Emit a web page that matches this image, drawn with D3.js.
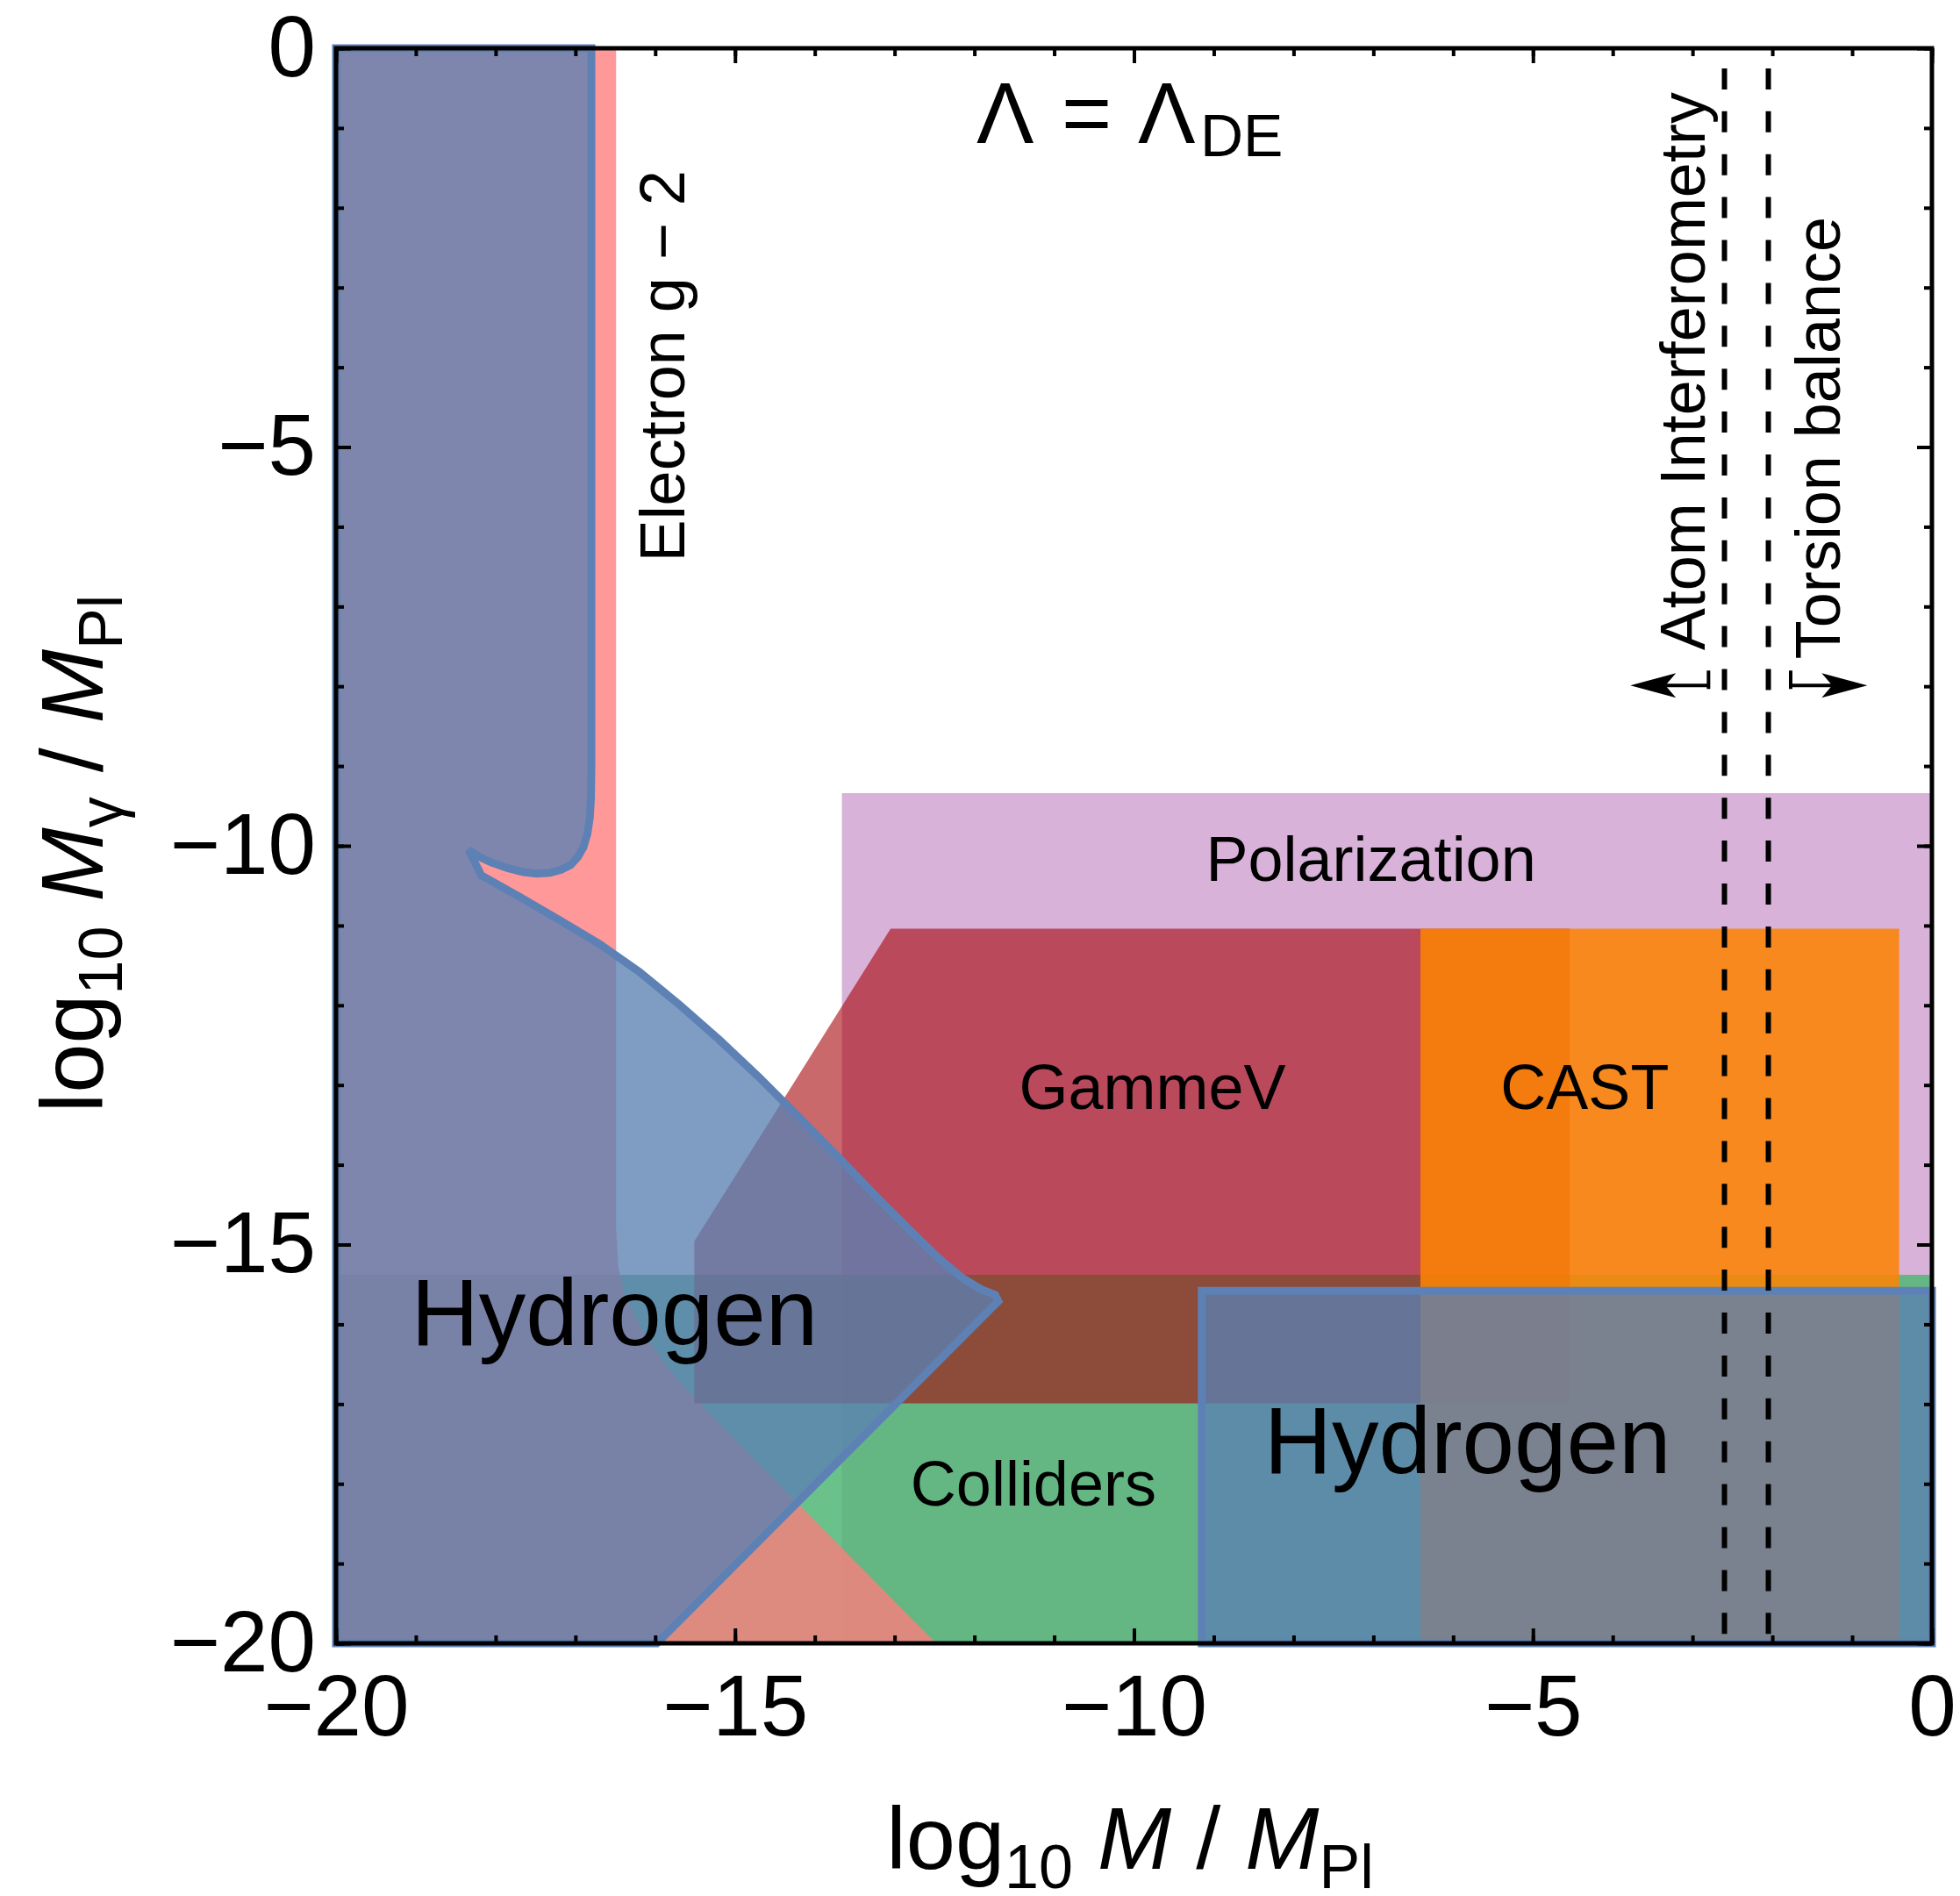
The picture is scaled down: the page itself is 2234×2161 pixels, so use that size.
<!DOCTYPE html>
<html>
<head>
<meta charset="utf-8">
<script src="https://cdn.jsdelivr.net/npm/d3@7"></script>
<style>
  body { margin: 0; background: #fff; }
  svg { display: block; }
  text { font-family: "Liberation Sans", Arial, Helvetica, sans-serif; fill: #000; }
</style>
</head>
<body>
<svg id="chart" width="2234" height="2161"></svg>
<script>
// ---- axis ticks ----
const xMajorTicks = [-20, -15, -10, -5, 0];
const yMajorTicks = [0, -5, -10, -15, -20];
const minorTicks = d3.range(-20, 1, 1);

// ---- excluded regions, (log10 M/MPl, log10 Mγ/MPl) vertices ----
const polarization = [[-13.66, -9.34], [0, -9.34], [0, -20], [-13.66, -20]];
const colliders = [[-20, -15.38], [0, -15.38], [0, -20], [-20, -20]];
const electronG2 = [
  [-20, 0], [-16.49, 0], [-16.49, -14.8], [-16.46, -15.3], [-16.36, -15.7],
  [-16.14, -16.1], [-15.84, -16.55], [-15.5, -16.93], [-14.21, -18.25],
  [-12.48, -20], [-20, -20]
];
const gammeV = [[-13.05, -11.04], [-4.54, -11.04], [-4.54, -16.99], [-15.51, -16.99], [-15.51, -14.96]];
const cast = [[-6.41, -11.04], [-0.41, -11.04], [-0.41, -20], [-6.41, -20]];
const hydrogenLeft = [
  [-20, 0], [-16.80, 0], [-16.80, -9.0], [-16.805, -9.4], [-16.82, -9.65],
  [-16.85, -9.85], [-16.90, -10.02], [-16.97, -10.14], [-17.06, -10.24],
  [-17.18, -10.30], [-17.32, -10.34], [-17.48, -10.35], [-17.65, -10.33],
  [-17.85, -10.28], [-18.05, -10.21], [-18.20, -10.14], [-18.34, -10.05],
  [-18.18, -10.37], [-17.70, -10.64], [-17.20, -10.93], [-16.70, -11.23],
  [-16.20, -11.58], [-15.70, -11.99], [-15.20, -12.43], [-14.70, -12.90],
  [-14.20, -13.40], [-13.70, -13.91], [-13.20, -14.43], [-12.80, -14.83],
  [-12.45, -15.17], [-12.15, -15.42], [-11.92, -15.56], [-11.74, -15.63],
  [-11.70, -15.71], [-11.80, -15.81], [-15.98, -20], [-20, -20]
];
const hydrogenRight = [[-9.15, -15.58], [0, -15.58], [0, -20], [-9.15, -20]];

// lower limits on M from fifth-force searches
const atomInterferometry = -2.60;
const torsionBalance = -2.05;

// ---- layout ----
const svg = d3.select("#chart");
const x = d3.scaleLinear().domain([-20, 0]).range([383, 2202]);
const y = d3.scaleLinear().domain([0, -20]).range([55, 1873]);
const path = d3.line().x(d => x(d[0])).y(d => y(d[1]));

const regions = [
  { pts: polarization,  fill: "rgb(216,178,216)", op: 1 },
  { pts: colliders,     fill: "rgb(80,182,116)",  op: 0.85 },
  { pts: electronG2,    fill: "rgb(255,124,124)", op: 0.78 },
  { pts: gammeV,        fill: "rgb(167,5,8)",     op: 0.60 },
  { pts: cast,          fill: "rgb(253,131,2)",   op: 0.87 },
  { pts: hydrogenLeft,  fill: "rgb(91,128,178)",  op: 0.78, stroke: "#5E81B5" },
  { pts: hydrogenRight, fill: "rgb(91,128,178)",  op: 0.78, stroke: "#5E81B5" }
];

const gRegions = svg.append("g");
regions.forEach(r => {
  gRegions.append("path")
    .attr("d", path(r.pts) + "Z")
    .attr("fill", r.fill)
    .attr("fill-opacity", r.op)
    .attr("stroke", r.stroke || "none")
    .attr("stroke-width", r.stroke ? 9 : 0)
    .attr("stroke-linejoin", "miter")
    .attr("stroke-miterlimit", 3);
});

// dashed verticals
[atomInterferometry, torsionBalance].forEach(v => {
  svg.append("line")
    .attr("x1", x(v)).attr("x2", x(v))
    .attr("y1", y(0)).attr("y2", y(-20))
    .attr("stroke", "#000").attr("stroke-width", 6)
    .attr("stroke-dasharray", "24,24.9")
    .attr("stroke-dashoffset", 26);
});

// region labels
const fontMain = 72;
function label(txt, xv, yv, size, anchor) {
  svg.append("text")
    .attr("x", x(xv)).attr("y", y(yv))
    .attr("font-size", size)
    .attr("text-anchor", anchor || "middle")
    .text(txt);
}
label("Polarization", -7.03, -10.44, fontMain);
label("GammeV", -9.77, -13.30, fontMain);
label("CAST", -4.35, -13.30, fontMain);
label("Colliders", -11.26, -18.27, fontMain);
label("Hydrogen", -16.51, -16.26, 107);
label("Hydrogen", -5.82, -17.87, 107);

function vlabel(txt, xv, yv) {
  svg.append("text")
    .attr("transform", `translate(${x(xv)},${y(yv)}) rotate(-90)`)
    .attr("font-size", fontMain)
    .attr("text-anchor", "start")
    .text(txt);
}
vlabel("Electron g \u2212 2", -15.63, -6.44);
vlabel("Atom Interferometry", -2.85, -7.55);
vlabel("Torsion balance", -1.155, -7.66);

// direction arrows next to the fifth-force limits
function arrow(xBar, xTip, yv) {
  const yy = y(yv), xb = x(xBar), xt = x(xTip);
  const dir = Math.sign(xt - xb);
  svg.append("line").attr("x1", xb).attr("x2", xb)
    .attr("y1", yy - 17).attr("y2", yy + 4)
    .attr("stroke", "#000").attr("stroke-width", 4);
  svg.append("line").attr("x1", xb).attr("x2", xt - dir * 40)
    .attr("y1", yy).attr("y2", yy)
    .attr("stroke", "#000").attr("stroke-width", 4);
  svg.append("path")
    .attr("d", `M${xt},${yy} L${xt - dir * 52},${yy - 14} L${xt - dir * 40},${yy} L${xt - dir * 52},${yy + 14} Z`)
    .attr("fill", "#000");
}
arrow(-2.80, -3.78, -7.99);
arrow(-1.77, -0.81, -7.99);

// Λ = Λ_DE
const lam = svg.append("text").attr("y", 163).attr("font-size", 98);
lam.append("tspan").attr("x", 1113).text("\u039B");
lam.append("tspan").attr("x", 1210).text("=");
lam.append("tspan").attr("x", 1297).text("\u039B");
lam.append("tspan").attr("x", 1368).attr("font-size", 68).attr("dy", 15).text("DE");

// ---- frame and ticks ----
const fontTick = 98;
function styleAxis(g) {
  g.select(".domain").remove();
  g.selectAll(".tick line").attr("stroke", "#000").attr("stroke-width", 4);
  g.attr("font-size", fontTick).attr("font-family", "\"Liberation Sans\", Arial, sans-serif");
}
const fmt = d3.format("d");

// bottom
svg.append("g").attr("transform", `translate(0,${y(-20)})`)
  .call(d3.axisBottom(x).tickValues(minorTicks).tickSizeInner(-9).tickSizeOuter(0).tickFormat(""))
  .call(styleAxis);
svg.append("g").attr("transform", `translate(0,${y(-20)})`)
  .call(d3.axisBottom(x).tickValues(xMajorTicks).tickSizeInner(-17).tickSizeOuter(0).tickPadding(35).tickFormat(fmt))
  .call(styleAxis);
// top
svg.append("g").attr("transform", `translate(0,${y(0)})`)
  .call(d3.axisTop(x).tickValues(minorTicks).tickSizeInner(-9).tickSizeOuter(0).tickFormat(""))
  .call(styleAxis);
svg.append("g").attr("transform", `translate(0,${y(0)})`)
  .call(d3.axisTop(x).tickValues(xMajorTicks).tickSizeInner(-17).tickSizeOuter(0).tickFormat(""))
  .call(styleAxis);
// left
svg.append("g").attr("transform", `translate(${x(-20)},0)`)
  .call(d3.axisLeft(y).tickValues(minorTicks).tickSizeInner(-9).tickSizeOuter(0).tickFormat(""))
  .call(styleAxis);
svg.append("g").attr("transform", `translate(${x(-20)},0)`)
  .call(d3.axisLeft(y).tickValues(yMajorTicks).tickSizeInner(-17).tickSizeOuter(0).tickPadding(23).tickFormat(fmt))
  .call(styleAxis);
// right
svg.append("g").attr("transform", `translate(${x(0)},0)`)
  .call(d3.axisRight(y).tickValues(minorTicks).tickSizeInner(-9).tickSizeOuter(0).tickFormat(""))
  .call(styleAxis);
svg.append("g").attr("transform", `translate(${x(0)},0)`)
  .call(d3.axisRight(y).tickValues(yMajorTicks).tickSizeInner(-17).tickSizeOuter(0).tickFormat(""))
  .call(styleAxis);

svg.append("rect")
  .attr("x", x(-20)).attr("y", y(0))
  .attr("width", x(0) - x(-20)).attr("height", y(-20) - y(0))
  .attr("fill", "none").attr("stroke", "#000").attr("stroke-width", 5);

// ---- axis titles ----
const titleSize = 101, subSize = 70;
const xt = svg.append("text").attr("x", 1288).attr("y", 2130)
  .attr("font-size", titleSize).attr("text-anchor", "middle");
xt.append("tspan").text("log");
xt.append("tspan").attr("font-size", subSize).attr("dy", 22).text("10");
xt.append("tspan").attr("dy", -22).text("\u00A0");
xt.append("tspan").attr("font-style", "italic").text("M");
xt.append("tspan").text(" / ");
xt.append("tspan").attr("font-style", "italic").text("M");
xt.append("tspan").attr("font-size", subSize).attr("dy", 22).text("Pl");

const yt = svg.append("text").attr("transform", "translate(117,973) rotate(-90)")
  .attr("font-size", titleSize).attr("text-anchor", "middle");
yt.append("tspan").text("log");
yt.append("tspan").attr("font-size", subSize).attr("dy", 22).text("10");
yt.append("tspan").attr("dy", -22).text("\u00A0");
yt.append("tspan").attr("font-style", "italic").text("M");
yt.append("tspan").attr("font-size", subSize).attr("dy", 22).text("\u03B3");
yt.append("tspan").attr("dy", -22).text(" / ");
yt.append("tspan").attr("font-style", "italic").text("M");
yt.append("tspan").attr("font-size", subSize).attr("dy", 22).text("Pl");
</script>
</body>
</html>
